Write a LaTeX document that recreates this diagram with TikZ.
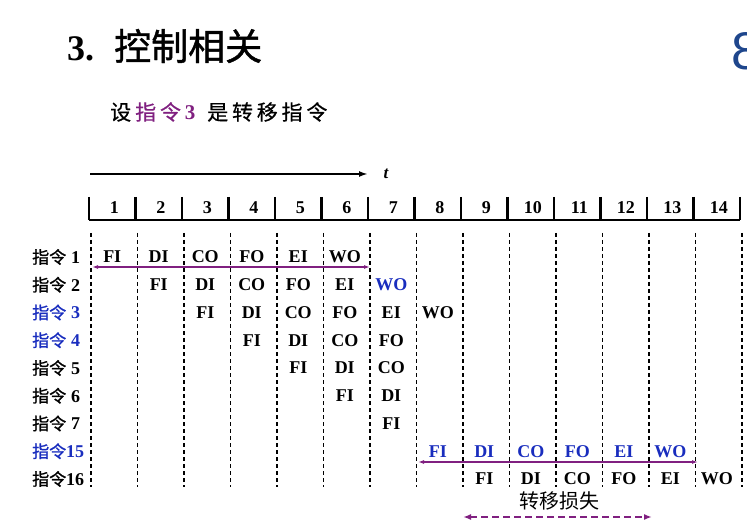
\documentclass[tikz,border=0pt]{standalone}
\usepackage{fontspec}
\setmainfont{Liberation Serif}
\newfontfamily\cjk{Noto Sans CJK SC}
\newfontfamily\cjkb[FakeBold=1.2]{Noto Sans CJK SC}
\newfontfamily\cjks[LetterSpace=18,FakeBold=0.6]{Noto Sans CJK SC}
\newfontfamily\sansnum{Liberation Sans}
\usetikzlibrary{arrows.meta}
\definecolor{zhpurple}{RGB}{128,32,128}
\definecolor{zhblue}{RGB}{25,45,190}
\definecolor{pgblue}{RGB}{30,70,140}
\tikzset{
  stage/.style={inner sep=0pt, font=\bfseries\fontsize{18}{18}\selectfont},
  num/.style={inner sep=0pt, font=\bfseries\fontsize{18}{18}\selectfont},
  rowlab/.style={anchor=west, inner sep=0pt, font=\fontsize{18}{18}\selectfont},
  cyclegrid/.style={line width=1.4pt, dash pattern=on 4pt off 3pt},
  jump/.style={zhpurple, line width=1.2pt, {Latex[length=6pt,width=4pt]}-{Latex[length=6pt,width=4pt]}},
  loss/.style={zhpurple, line width=2pt, dash pattern=on 7pt off 4pt, {Latex[length=8pt,width=6pt]}-{Latex[length=8pt,width=6pt]}}
}
\begin{document}
\begin{tikzpicture}[x=1pt,y=-1pt]
\useasboundingbox (0,0) rectangle (747,521);

% 标题
\node[anchor=west, inner sep=0pt] (title) at (67,46) {\fontsize{36}{36}\selectfont\textbf{3.}\hspace{20pt}{\cjkb\fontsize{37}{37}\selectfont 控制相关}};
\node[anchor=west, inner sep=0pt, text=pgblue, font=\sansnum\fontsize{53}{53}\selectfont] (page) at (731,51) {8};

% 说明
\node[anchor=west, inner sep=0pt] (note) at (110,112) {\cjks\fontsize{21}{21}\selectfont 设\hspace{4pt}\textcolor{zhpurple}{指令\textbf{\rmfamily 3}}\hspace{12pt}是转移指令};

% 时间轴
\coordinate (t0) at (90,174);
\coordinate (t1) at (368,174);
\node[font=\bfseries\itshape\fontsize{17}{17}\selectfont] (t) at (386,174) {t};
\draw[line width=1.8pt, -{Latex[length=9pt,width=6pt]}] (t0) -- (t1);

% 时钟周期
\draw[line width=2pt] (89,220) -- (740,220);
\foreach \k in {0,...,14}
  \draw[line width=2.4pt] ({89+46.5*\k},197) -- ({89+46.5*\k},220);
\foreach \k in {1,...,14}
  \node[num] (n\k) at ({67.75+46.5*\k},208) {\k};

% 虚线
\foreach \k in {0,...,14}
  \draw[cyclegrid] ({91+46.5*\k},233) -- ({91+46.5*\k},487);

% 各条指令
\foreach \r/\lab/\lc/\c/\sc/\st in {
  1/{\hspace{5pt}1}/black/1/black/{FI,DI,CO,FO,EI,WO},
  2/{\hspace{5pt}2}/black/2/black/{FI,DI,CO,FO,EI,\textcolor{zhblue}{WO}},
  3/{\hspace{5pt}3}/zhblue/3/black/{FI,DI,CO,FO,EI,WO},
  4/{\hspace{5pt}4}/zhblue/4/black/{FI,DI,CO,FO},
  5/{\hspace{5pt}5}/black/5/black/{FI,DI,CO},
  6/{\hspace{5pt}6}/black/6/black/{FI,DI},
  7/{\hspace{5pt}7}/black/7/black/{FI},
  8/{15}/zhblue/8/zhblue/{FI,DI,CO,FO,EI,WO},
  9/{16}/black/9/black/{FI,DI,CO,FO,EI,WO}}
{
  \node[rowlab, text=\lc] (l\r) at (32,{257+27.75*(\r-1)}) {{\cjkb\fontsize{17}{17}\selectfont 指令}\textbf{\lab}};
  \foreach \s [count=\k from \c] in \st
    \node[stage, text=\sc] (s\r-\k) at ({65.75+46.5*\k},{257+27.75*(\r-1)}) {\s};
}

% 转移箭头
\coordinate (a1) at (92,267);
\coordinate (b1) at (370,267);
\draw[jump] (a1) -- (b1);
\coordinate (a15) at (418,462);
\coordinate (b15) at (698,462);
\draw[jump] (a15) -- (b15);

% 转移损失
\node[inner sep=0pt, font=\cjk\fontsize{20}{20}\selectfont] (lossl) at (559,501) {转移损失};
\coordinate (la) at (463,517);
\coordinate (lb) at (652,517);
\draw[loss] (la) -- (lb);
\end{tikzpicture}
\end{document}
